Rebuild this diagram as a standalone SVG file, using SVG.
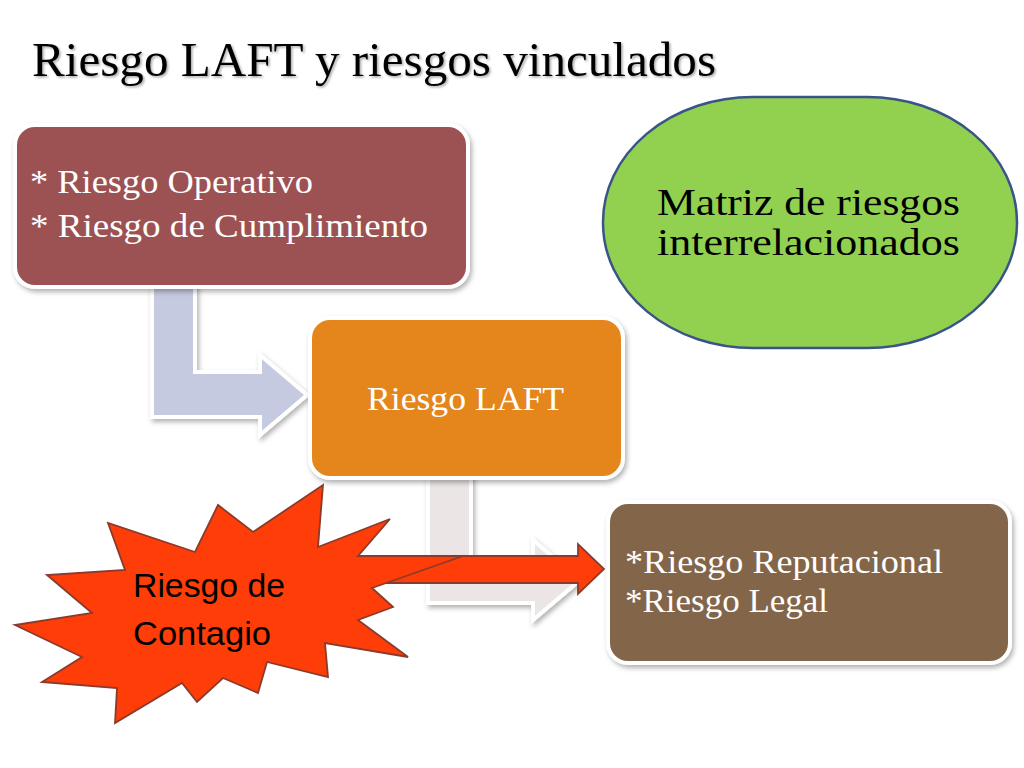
<svg xmlns="http://www.w3.org/2000/svg" width="1024" height="768" viewBox="0 0 1024 768">
<defs>
<filter id="sh" x="-10%" y="-10%" width="130%" height="130%">
<feDropShadow dx="2" dy="3" stdDeviation="2.5" flood-color="#000" flood-opacity="0.3"/>
</filter>
<filter id="tsh" x="-5%" y="-20%" width="110%" height="150%">
<feDropShadow dx="1.5" dy="1.5" stdDeviation="1" flood-color="#000" flood-opacity="0.35"/>
</filter>
</defs>
<style>
.box{stroke:#fff;stroke-width:4;filter:url(#sh)}
.bent{stroke:#fff;stroke-width:4;stroke-linejoin:miter;filter:url(#sh)}
.wt{font-family:"Liberation Serif","Times New Roman",serif;font-size:34px;fill:#fff}
.bt{font-family:"Liberation Serif","Times New Roman",serif;font-size:38px;fill:#000}
.red{fill:#fe3d08;stroke:#8a3b2c;stroke-width:1.8;stroke-linejoin:miter}
</style>
<rect width="1024" height="768" fill="#fff"/>
<text x="32" y="76" font-family="'Liberation Serif','Times New Roman',serif" font-size="49" fill="#000" filter="url(#tsh)" textLength="684" lengthAdjust="spacingAndGlyphs">Riesgo LAFT y riesgos vinculados</text>
<g id="connectors">
<polygon class="bent" fill="#c5cae0" points="152,280 195,280 195,372 260,372 260,355 307,395 260,435 260,417 152,417"/>
<polygon class="bent" fill="#ebe5e5" points="428,470 471,470 471,558 533,558 533,540 580,580 533,620 533,603 428,603"/>
</g>
<g id="box1">
<rect class="box" x="15" y="125" width="453" height="162" rx="20" fill="#9c5153"/>
<text class="wt" x="30" y="193" textLength="283" lengthAdjust="spacingAndGlyphs">* Riesgo Operativo</text>
<text class="wt" x="30" y="237" textLength="398" lengthAdjust="spacingAndGlyphs">* Riesgo de Cumplimiento</text>
</g>
<g id="box2">
<rect class="box" x="310" y="318" width="313" height="160" rx="20" fill="#e5861f"/>
<text class="wt" x="367" y="410" textLength="197" lengthAdjust="spacingAndGlyphs">Riesgo LAFT</text>
</g>
<g id="box3">
<rect class="box" x="608" y="502" width="402" height="161" rx="20" fill="#83664a"/>
<text class="wt" x="625" y="573" textLength="318" lengthAdjust="spacingAndGlyphs">*Riesgo Reputacional</text>
<text class="wt" x="625" y="612" textLength="203" lengthAdjust="spacingAndGlyphs">*Riesgo Legal</text>
</g>
<g id="matriz">
<rect x="603" y="97" width="414" height="251" rx="150" ry="125" fill="#92d050" stroke="#3b5487" stroke-width="2.5"/>
<text class="bt" x="657" y="215" textLength="303" lengthAdjust="spacingAndGlyphs">Matriz de riesgos</text>
<text class="bt" x="657" y="255" textLength="303" lengthAdjust="spacingAndGlyphs">interrelacionados</text>
</g>
<g id="connector-red">
<polygon class="red" points="385,556 578,556 578,544 604,569 578,594 578,583 385,583"/>
</g>
<g id="contagio">
<polygon class="red" points="323,485 318,547 390,519 358,556 463,556 372,588 393,607 358,620 408,657 325,643 328,677 267,662 258,693 223,678 197,702 182,683 115,723 117,688 42,682 82,657 15,625 92,613 47,575 125,570 108,523 195,552 218,505 253,532"/>
<text x="133" y="597" font-family="'Liberation Sans',Arial,sans-serif" font-size="34" fill="#000" textLength="152" lengthAdjust="spacingAndGlyphs">Riesgo de</text>
<text x="133" y="645" font-family="'Liberation Sans',Arial,sans-serif" font-size="34" fill="#000" textLength="138" lengthAdjust="spacingAndGlyphs">Contagio</text>
</g>
</svg>
